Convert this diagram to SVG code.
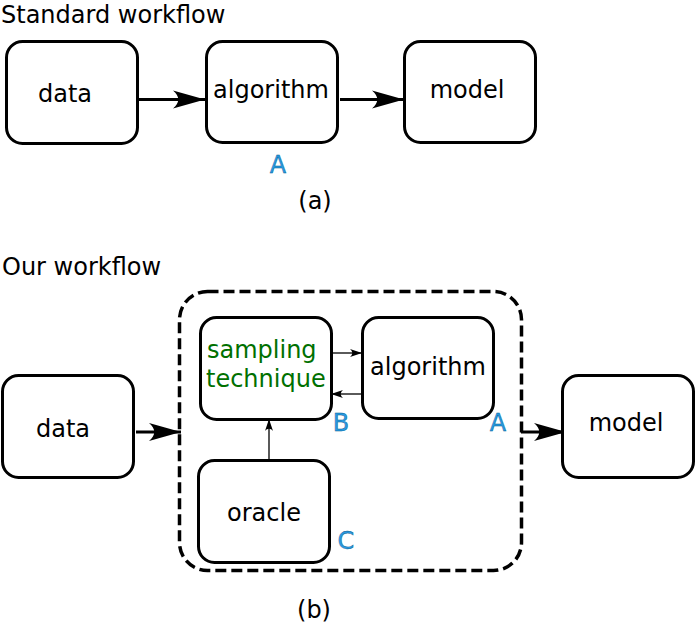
<svg xmlns="http://www.w3.org/2000/svg" width="696" height="623" viewBox="0 0 696 623">
<defs>
<style>
.box{fill:#fff;stroke:#000;stroke-width:3}
.t{font-family:"DejaVu Sans",sans-serif;font-size:24px;fill:#000}
.g{fill:#007000}
.lbl{font-family:"DejaVu Sans",sans-serif;font-size:24px;fill:#2a9ae0;stroke:#00568f;stroke-width:0.4}
.thick{stroke:#000;stroke-width:3;fill:none}
.thin{stroke:#000;stroke-width:1.3;fill:none}
</style>
<marker id="big" markerUnits="userSpaceOnUse" markerWidth="40" markerHeight="24" viewBox="-34 -12 40 24" refX="0" refY="0" orient="auto">
<path d="M0,0 L-32,-9 C-25,-3 -25,3 -32,9 Z" fill="#000"/>
</marker>
<marker id="small" markerUnits="userSpaceOnUse" markerWidth="16" markerHeight="10" viewBox="-14 -5 16 10" refX="0" refY="0" orient="auto">
<path d="M0,0 L-12,-4 C-9,-1.5 -9,1.5 -12,4 Z" fill="#000"/>
</marker>
</defs>
<rect width="696" height="623" fill="#fff"/>
<text class="t" x="1" y="22.5">Standard workflow</text>
<text class="t" x="2" y="275">Our workflow</text>
<g id="connectors">
<line class="thick" x1="139" y1="99.5" x2="205" y2="99.5" marker-end="url(#big)"/>
<line class="thick" x1="340" y1="99.5" x2="404" y2="99.5" marker-end="url(#big)"/>
<line class="thick" x1="136" y1="432" x2="181" y2="432" marker-end="url(#big)"/>
<line class="thick" x1="521" y1="432" x2="566" y2="432" marker-end="url(#big)"/>
<line class="thin" x1="331" y1="353" x2="362" y2="353" marker-end="url(#small)"/>
<line class="thin" x1="362" y1="394" x2="331" y2="394" marker-end="url(#small)"/>
<line class="thin" x1="269" y1="460" x2="269" y2="419" marker-end="url(#small)"/>
</g>
<g id="a-data"><rect class="box" x="6.5" y="41.5" width="131" height="102" rx="16"/><text class="t" x="65" y="102" text-anchor="middle">data</text></g>
<g id="a-algorithm"><rect class="box" x="206.5" y="41.5" width="131" height="101" rx="16"/><text class="t" x="271" y="98" text-anchor="middle">algorithm</text></g>
<g id="a-model"><rect class="box" x="404.5" y="41.5" width="131" height="101" rx="16"/><text class="t" x="467" y="98" text-anchor="middle">model</text></g>
<text class="lbl" x="278" y="173" text-anchor="middle">A</text>
<text class="t" x="315" y="209" text-anchor="middle">(a)</text>
<g id="container"><rect x="179.5" y="291.5" width="342" height="279" rx="28" fill="none" stroke="#000" stroke-width="3.5" stroke-dasharray="11,5"/></g>
<g id="b-sampling"><rect class="box" x="200.5" y="317.5" width="131" height="102" rx="16"/><text class="t g" x="207" y="358">sampling</text><text class="t g" x="206" y="387">technique</text></g>
<g id="b-algorithm"><rect class="box" x="362.5" y="317.5" width="131" height="101" rx="16"/><text class="t" x="428" y="375" text-anchor="middle">algorithm</text></g>
<g id="b-oracle"><rect class="box" x="198.5" y="460.5" width="131" height="102" rx="16"/><text class="t" x="264" y="521" text-anchor="middle">oracle</text></g>
<g id="b-data"><rect class="box" x="2.5" y="375.5" width="131" height="102" rx="16"/><text class="t" x="63" y="437" text-anchor="middle">data</text></g>
<g id="b-model"><rect class="box" x="562.5" y="375.5" width="131" height="102" rx="16"/><text class="t" x="626" y="431" text-anchor="middle">model</text></g>
<text class="lbl" x="341" y="431" text-anchor="middle">B</text>
<text class="lbl" x="498" y="431" text-anchor="middle">A</text>
<text class="lbl" x="346" y="549" text-anchor="middle">C</text>
<text class="t" x="314" y="618" text-anchor="middle">(b)</text>
</svg>
